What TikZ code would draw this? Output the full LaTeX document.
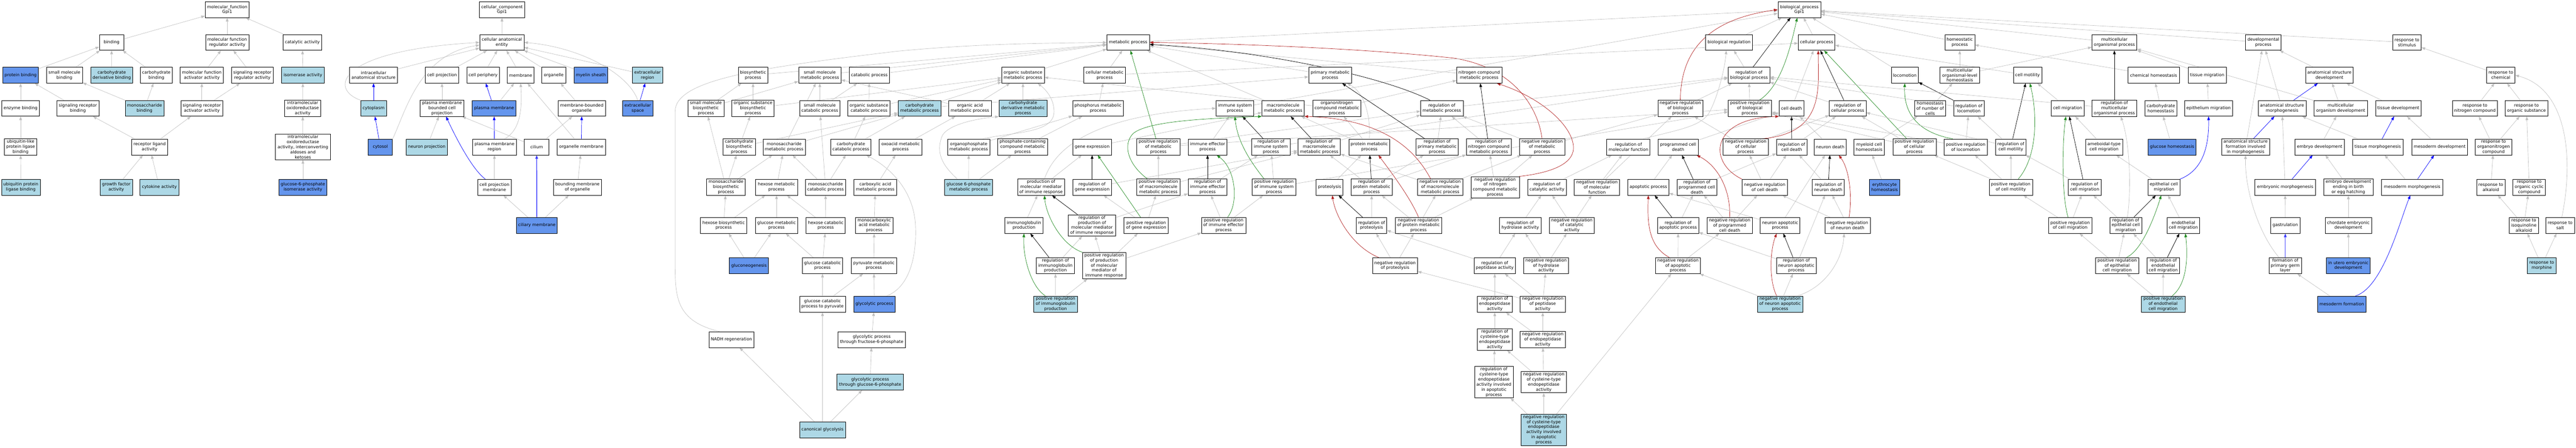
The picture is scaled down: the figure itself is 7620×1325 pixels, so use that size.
\documentclass[tikz,border=0pt]{standalone}
\usepackage{fontspec}
\newfontfamily\gofam{DejaVu Sans}
\usetikzlibrary{arrows.meta}
\pgfdeclarelayer{bg}
\pgfsetlayers{bg,main}
\definecolor{lbc}{HTML}{ADD8E6}
\definecolor{dbc}{HTML}{6495ED}
\definecolor{gc}{HTML}{C0C0C0}
\definecolor{gre}{HTML}{228B22}
\definecolor{redc}{HTML}{B22222}
\newcommand\gofont{\gofam\fontsize{12.5}{15}\selectfont}
\newcommand\GoNode[6]{\node[#1, minimum width={(#4-#3)*1pt}] (#2) at ({(#3+#4)/2},#5) {#6};}
\newcommand\EdG[2]{\draw[egray] (#1) -- (#2);}
\newcommand\EdU[2]{\draw[eblue] (#1) -- (#2);}
\newcommand\EdK[2]{\draw[eblack] (#1) -- (#2);}
\newcommand\EdP[2]{\draw[egreen] (#1) -- (#2);}
\newcommand\EdN[2]{\draw[ered] (#1) -- (#2);}
\tikzset{
 gobox/.style={draw=black, line width=1pt, fill=white, font=\gofont, align=center, inner xsep=5.5pt, inner ysep=2.9pt, minimum height=47pt},
 wbox/.style={gobox},
 lbbox/.style={gobox, fill=lbc},
 dbbox/.style={gobox, fill=dbc},
 tip/.style={-{Triangle[length=11pt,width=8pt]}},
 egray/.style={draw=gc, line width=1pt, tip},
 eblue/.style={draw=blue, line width=1.1pt, tip},
 eblack/.style={draw=black, line width=1.1pt, tip},
 egreen/.style={draw=gre, line width=1.1pt, tip},
 ered/.style={draw=redc, line width=1.1pt, tip}
}
\begin{document}
\begin{tikzpicture}[x=1pt,y=-1pt]
\useasboundingbox (0,0) rectangle (7620,1325);
% ---------------- molecular function
\GoNode{wbox}{mf}{607}{737}{28.5}{molecular\_function\\Gpi1}
\GoNode{wbox}{binding}{294}{366}{125.5}{binding}
\GoNode{wbox}{mfreg}{608}{736}{125.5}{molecular function\\regulator activity}
\GoNode{wbox}{catal}{837}{952}{125.5}{catalytic activity}
\GoNode{dbbox}{protbind}{9}{113}{222.5}{protein binding}
\GoNode{wbox}{smbind}{137}{244}{222.5}{small molecule\\binding}
\GoNode{lbbox}{cdbind}{269}{392}{222.5}{carbohydrate\\derivative binding}
\GoNode{wbox}{cbind}{417}{508}{222.5}{carbohydrate\\binding}
\GoNode{wbox}{mfact}{533}{661}{222.5}{molecular function\\activator activity}
\GoNode{wbox}{srreg}{685}{808}{222.5}{signaling receptor\\regulator activity}
\GoNode{lbbox}{isom}{833}{959}{222.5}{isomerase activity}
\GoNode{wbox}{enzbind}{6}{116}{320.5}{enzyme binding}
\GoNode{wbox}{srbind}{169}{292}{320.5}{signaling receptor\\binding}
\GoNode{lbbox}{monobind}{371}{484}{320.5}{monosaccharide\\binding}
\GoNode{wbox}{sract}{536}{658}{320.5}{signaling receptor\\activator activity}
\GoNode{wbox}{intraox}{842}{949}{320.5}{intramolecular\\oxidoreductase\\activity}
\GoNode{wbox}{ubl}{14}{108}{435}{ubiquitin-like\\protein ligase\\binding}
\GoNode{wbox}{rla}{390}{495}{435}{receptor ligand\\activity}
\GoNode{wbox}{intraoxb}{815}{977}{435}{intramolecular\\oxidoreductase\\activity, interconverting\\aldoses and\\ketoses}
\GoNode{lbbox}{ubpl}{5}{118}{554}{ubiquitin protein\\ligase binding}
\GoNode{lbbox}{gfa}{297}{391}{554}{growth factor\\activity}
\GoNode{lbbox}{cytok}{414}{529}{554}{cytokine activity}
\GoNode{dbbox}{gpi}{825}{967}{554}{glucose-6-phosphate\\isomerase activity}
% ---------------- cellular component
\GoNode{wbox}{cc}{1418}{1552}{28.5}{cellular\_component\\Gpi1}
\GoNode{wbox}{cae}{1419}{1550}{125.5}{cellular anatomical\\entity}
\GoNode{wbox}{ias}{1034}{1176}{222.5}{intracellular\\anatomical structure}
\GoNode{wbox}{cellproj}{1258}{1357}{222.5}{cell projection}
\GoNode{wbox}{cellper}{1382}{1476}{222.5}{cell periphery}
\GoNode{wbox}{memb}{1501}{1579}{222.5}{membrane}
\GoNode{wbox}{organelle}{1602}{1674}{222.5}{organelle}
\GoNode{dbbox}{myelin}{1699}{1797}{222.5}{myelin sheath}
\GoNode{lbbox}{extreg}{1871}{1960}{222.5}{extracellular\\region}
\GoNode{lbbox}{cytoplasm}{1067}{1143}{320.5}{cytoplasm}
\GoNode{wbox}{pmbcp}{1243}{1372}{320.5}{plasma membrane\\bounded cell\\projection}
\GoNode{dbbox}{pm}{1397}{1526}{320.5}{plasma membrane}
\GoNode{wbox}{mbo}{1652}{1790}{320.5}{membrane-bounded\\organelle}
\GoNode{dbbox}{extsp}{1842}{1931}{320.5}{extracellular\\space}
\GoNode{dbbox}{cytosol}{1089}{1161}{435}{cytosol}
\GoNode{lbbox}{neuproj}{1202}{1323}{435}{neuron projection}
\GoNode{wbox}{pmr}{1398}{1527}{435}{plasma membrane\\region}
\GoNode{wbox}{cilium}{1551}{1624}{435}{cilium}
\GoNode{wbox}{orgmem}{1648}{1791}{435}{organelle membrane}
\GoNode{wbox}{cpm}{1413}{1512}{554}{cell projection\\membrane}
\GoNode{wbox}{bmo}{1637}{1779}{554}{bounding membrane\\of organelle}
\GoNode{dbbox}{cilmem}{1528}{1648}{667}{ciliary membrane}
% ---------------- metabolism (left)
\GoNode{wbox}{smbp}{2035}{2141}{320.5}{small molecule\\biosynthetic\\process}
\GoNode{wbox}{monobp}{2091}{2204}{554}{monosaccharide\\biosynthetic\\process}
\GoNode{wbox}{hexbp}{2072}{2209}{667}{hexose biosynthetic\\process}
\GoNode{wbox}{nadh}{2098}{2229}{1005}{NADH regeneration}
\GoNode{wbox}{biosyn}{2184}{2271}{222.5}{biosynthetic\\process}
\GoNode{wbox}{smmp}{2362}{2488}{222.5}{small molecule\\metabolic process}
\GoNode{wbox}{catab}{2512}{2631}{222.5}{catabolic process}
\GoNode{wbox}{osbp}{2166}{2289}{320.5}{organic substance\\biosynthetic\\process}
\GoNode{wbox}{smcp}{2366}{2484}{320.5}{small molecule\\catabolic process}
\GoNode{wbox}{oscp}{2509}{2632}{320.5}{organic substance\\catabolic process}
\GoNode{lbbox}{carbmp}{2657}{2783}{320.5}{carbohydrate\\metabolic process}
\GoNode{wbox}{cbp}{2141}{2232}{435}{carbohydrate\\biosynthetic\\process}
\GoNode{wbox}{monomp}{2257}{2382}{435}{monosaccharide\\metabolic process}
\GoNode{wbox}{carbcp}{2458}{2576}{435}{carbohydrate\\catabolic process}
\GoNode{wbox}{oxoacid}{2601}{2727}{435}{oxoacid metabolic\\process}
\GoNode{wbox}{hexmp}{2235}{2359}{554}{hexose metabolic\\process}
\GoNode{wbox}{monocp}{2383}{2501}{554}{monosaccharide\\catabolic process}
\GoNode{wbox}{carbox}{2526}{2652}{554}{carboxylic acid\\metabolic process}
\GoNode{wbox}{glcmp}{2234}{2360}{667}{glucose metabolic\\process}
\GoNode{wbox}{hexcp}{2385}{2500}{667}{hexose catabolic\\process}
\GoNode{wbox}{monocarb}{2531}{2641}{667}{monocarboxylic\\acid metabolic\\process}
\GoNode{dbbox}{gluconeo}{2158}{2273}{786}{gluconeogenesis}
\GoNode{wbox}{glccp}{2374}{2492}{786}{glucose catabolic\\process}
\GoNode{wbox}{pyr}{2518}{2652}{786}{pyruvate metabolic\\process}
\GoNode{wbox}{glccppyr}{2366}{2500}{900}{glucose catabolic\\process to pyruvate}
\GoNode{dbbox}{glyco}{2525}{2648}{900}{glycolytic process}
\GoNode{wbox}{gpfsp}{2479}{2678}{1005}{glycolytic process\\through fructose-6-phosphate}
\GoNode{lbbox}{gpgsp}{2476}{2672}{1131}{glycolytic process\\through glucose-6-phosphate}
\GoNode{lbbox}{canon}{2365}{2501}{1272}{canonical glycolysis}
% ---------------- metabolism (middle)
\GoNode{wbox}{metab}{3274}{3400}{125.5}{metabolic process}
\GoNode{wbox}{osmp}{2963}{3089}{222.5}{organic substance\\metabolic process}
\GoNode{wbox}{cellmp}{3206}{3329}{222.5}{cellular metabolic\\process}
\GoNode{wbox}{oamp}{2806}{2932}{320.5}{organic acid\\metabolic process}
\GoNode{lbbox}{cdmp}{2955}{3097}{320.5}{carbohydrate\\derivative metabolic\\process}
\GoNode{wbox}{phosmp}{3173}{3323}{320.5}{phosphorus metabolic\\process}
\GoNode{wbox}{orgphos}{2803}{2928}{435}{organophosphate\\metabolic process}
\GoNode{wbox}{pccmp}{2952}{3098}{435}{phosphate-containing\\compound metabolic\\process}
\GoNode{wbox}{geneexp}{3174}{3287}{435}{gene expression}
\GoNode{lbbox}{gsixmp}{2794}{2936}{554}{glucose 6-phosphate\\metabolic process}
\GoNode{wbox}{prodmm}{3010}{3149}{554}{production of\\molecular mediator\\of immune response}
\GoNode{wbox}{reggene}{3174}{3287}{554}{regulation of\\gene expression}
\GoNode{wbox}{igprod}{2973}{3085}{667}{immunoglobulin\\production}
\GoNode{wbox}{regprodmm}{3160}{3300}{667}{regulation of\\production of\\molecular mediator\\of immune response}
\GoNode{wbox}{posgene}{3325}{3456}{667}{positive regulation\\of gene expression}
\GoNode{wbox}{regig}{3066}{3178}{786}{regulation of\\immunoglobulin\\production}
\GoNode{wbox}{posprodmm}{3202}{3330}{786}{positive regulation\\of production\\of molecular\\mediator of\\immune response}
\GoNode{lbbox}{posig}{3058}{3187}{900}{positive regulation\\of immunoglobulin\\production}
\GoNode{wbox}{primmp}{3871}{3998}{222.5}{primary metabolic\\process}
\GoNode{wbox}{isp}{3597}{3709}{320.5}{immune system\\process}
\GoNode{wbox}{macromp}{3733}{3858}{320.5}{macromolecule\\metabolic process}
\GoNode{wbox}{orgnit}{3884}{4025}{320.5}{organonitrogen\\compound metabolic\\process}
\GoNode{wbox}{posmp}{3362}{3491}{435}{positive regulation\\of metabolic\\process}
\GoNode{wbox}{iep}{3515}{3629}{435}{immune effector\\process}
\GoNode{wbox}{regisp}{3703}{3816}{435}{regulation of\\immune system\\process}
\GoNode{wbox}{regmacro}{3839}{3965}{435}{regulation of\\macromolecule\\metabolic process}
\GoNode{wbox}{protmp}{3990}{4111}{435}{protein metabolic\\process}
\GoNode{wbox}{posmacro}{3362}{3491}{554}{positive regulation\\of macromolecule\\metabolic process}
\GoNode{wbox}{regiep}{3515}{3629}{554}{regulation of\\immune effector\\process}
\GoNode{wbox}{posisp}{3704}{3833}{554}{positive regulation\\of immune system\\process}
\GoNode{wbox}{proteol}{3894}{3972}{554}{proteolysis}
\GoNode{wbox}{regprotmp}{3997}{4118}{554}{regulation of\\protein metabolic\\process}
\GoNode{wbox}{posiep}{3554}{3685}{667}{positive regulation\\of immune effector\\process}
\GoNode{wbox}{regproteol}{4013}{4101}{667}{regulation of\\proteolysis}
\GoNode{wbox}{ncmp}{4310}{4441}{222.5}{nitrogen compound\\metabolic process}
\GoNode{wbox}{regmp}{4202}{4328}{320.5}{regulation of\\metabolic process}
\GoNode{wbox}{regprimp}{4188}{4314}{435}{regulation of\\primary metabolic\\process}
\GoNode{wbox}{regncmp}{4338}{4470}{435}{regulation of\\nitrogen compound\\metabolic process}
\GoNode{wbox}{negmp}{4495}{4628}{435}{negative regulation\\of metabolic\\process}
\GoNode{wbox}{regmf}{4753}{4881}{435}{regulation of\\molecular function}
\GoNode{wbox}{negmacro}{4194}{4326}{554}{negative regulation\\of macromolecule\\metabolic process}
\GoNode{wbox}{negncmp}{4351}{4494}{554}{negative regulation\\of nitrogen\\compound metabolic\\process}
\GoNode{wbox}{regcat}{4519}{4633}{554}{regulation of\\catalytic activity}
\GoNode{wbox}{negmf}{4657}{4791}{554}{negative regulation\\of molecular\\function}
\GoNode{wbox}{negprotmp}{4127}{4265}{667}{negative regulation\\of protein metabolic\\process}
\GoNode{wbox}{reghyd}{4436}{4558}{667}{regulation of\\hydrolase activity}
\GoNode{wbox}{negcat}{4583}{4716}{667}{negative regulation\\of catalytic\\activity}
\GoNode{wbox}{negproteol}{4060}{4193}{786}{negative regulation\\of proteolysis}
\GoNode{wbox}{regpep}{4360}{4483}{786}{regulation of\\peptidase activity}
\GoNode{wbox}{neghyd}{4507}{4640}{786}{negative regulation\\of hydrolase\\activity}
\GoNode{wbox}{regendo}{4371}{4472}{900}{regulation of\\endopeptidase\\activity}
\GoNode{wbox}{negpep}{4497}{4630}{900}{negative regulation\\of peptidase\\activity}
\GoNode{wbox}{regcys}{4371}{4472}{1005}{regulation of\\cysteine-type\\endopeptidase\\activity}
\GoNode{wbox}{negendo}{4497}{4630}{1005}{negative regulation\\of endopeptidase\\activity}
\GoNode{wbox}{regcysapo}{4362}{4476}{1131}{regulation of\\cysteine-type\\endopeptidase\\activity involved\\in apoptotic\\process}
\GoNode{wbox}{negcys}{4500}{4633}{1131}{negative regulation\\of cysteine-type\\endopeptidase\\activity}
\GoNode{lbbox}{negcysapo}{4500}{4633}{1272}{negative regulation\\of cysteine-type\\endopeptidase\\activity involved\\in apoptotic\\process}
% ---------------- biological process / cell death
\GoNode{wbox}{bp}{5259}{5386}{28.5}{biological\_process\\Gpi1}
\GoNode{wbox}{bioreg}{5045}{5184}{125.5}{biological regulation}
\GoNode{wbox}{cellproc}{5320}{5427}{125.5}{cellular process}
\GoNode{wbox}{regbp}{5112}{5235}{222.5}{regulation of\\biological process}
\GoNode{wbox}{negbp}{4904}{5037}{320.5}{negative regulation\\of biological\\process}
\GoNode{wbox}{posbp}{5112}{5240}{320.5}{positive regulation\\of biological\\process}
\GoNode{wbox}{celldeath}{5263}{5336}{320.5}{cell death}
\GoNode{wbox}{regcp}{5412}{5519}{320.5}{regulation of\\cellular process}
\GoNode{wbox}{pcd}{4905}{5023}{435}{programmed cell\\death}
\GoNode{wbox}{negcp}{5097}{5231}{435}{negative regulation\\of cellular\\process}
\GoNode{wbox}{regcd}{5256}{5344}{435}{regulation of\\cell death}
\GoNode{wbox}{neurdeath}{5368}{5460}{435}{neuron death}
\GoNode{wbox}{apop}{4816}{4936}{554}{apoptotic process}
\GoNode{wbox}{regpcd}{4961}{5078}{554}{regulation of\\programmed cell\\death}
\GoNode{wbox}{negcd}{5153}{5287}{554}{negative regulation\\of cell death}
\GoNode{wbox}{regnd}{5362}{5454}{554}{regulation of\\neuron death}
\GoNode{wbox}{regapop}{4904}{5024}{667}{regulation of\\apoptotic process}
\GoNode{wbox}{negpcd}{5050}{5183}{667}{negative regulation\\of programmed\\cell death}
\GoNode{wbox}{neurapop}{5208}{5323}{667}{neuron apoptotic\\process}
\GoNode{wbox}{negnd}{5398}{5532}{667}{negative regulation\\of neuron death}
\GoNode{wbox}{negapop}{4897}{5030}{786}{negative regulation\\of apoptotic\\process}
\GoNode{wbox}{regneurapop}{5256}{5371}{786}{regulation of\\neuron apoptotic\\process}
\GoNode{lbbox}{negneurapop}{5199}{5332}{900}{negative regulation\\of neuron apoptotic\\process}
% ---------------- locomotion / homeostasis
\GoNode{wbox}{homeo}{5754}{5840}{125.5}{homeostatic\\process}
\GoNode{wbox}{locom}{5595}{5674}{222.5}{locomotion}
\GoNode{wbox}{multihomeo}{5739}{5855}{222.5}{multicellular\\organismal-level\\homeostasis}
\GoNode{wbox}{cellmot}{5956}{6039}{222.5}{cell motility}
\GoNode{wbox}{homnum}{5664}{5755}{320.5}{homeostasis\\of number of\\cells}
\GoNode{wbox}{regloc}{5780}{5868}{320.5}{regulation of\\locomotion}
\GoNode{wbox}{cellmig}{6068}{6164}{320.5}{cell migration}
\GoNode{wbox}{myeloid}{5485}{5573}{435}{myeloid cell\\homeostasis}
\GoNode{wbox}{poscp}{5599}{5727}{435}{positive regulation\\of cellular\\process}
\GoNode{wbox}{posloc}{5750}{5879}{435}{positive regulation\\of locomotion}
\GoNode{wbox}{regcm}{5904}{5992}{435}{regulation of\\cell motility}
\GoNode{dbbox}{erythro}{5530}{5619}{554}{erythrocyte\\homeostasis}
\GoNode{wbox}{poscm}{5884}{6012}{554}{positive regulation\\of cell motility}
\GoNode{wbox}{regcmig}{6118}{6215}{554}{regulation of\\cell migration}
\GoNode{wbox}{poscmig}{6060}{6187}{667}{positive regulation\\of cell migration}
\GoNode{wbox}{multiorg}{6188}{6321}{125.5}{multicellular\\organismal process}
\GoNode{wbox}{devproc}{6643}{6747}{125.5}{developmental\\process}
\GoNode{wbox}{chemhom}{6294}{6447}{222.5}{chemical homeostasis}
\GoNode{wbox}{tissmig}{6473}{6585}{222.5}{tissue migration}
\GoNode{wbox}{regmulti}{6188}{6321}{320.5}{regulation of\\multicellular\\organismal process}
\GoNode{wbox}{carbhom}{6346}{6438}{320.5}{carbohydrate\\homeostasis}
\GoNode{wbox}{epimig}{6462}{6604}{320.5}{epithelium migration}
\GoNode{wbox}{ameboid}{6169}{6279}{435}{ameboidal-type\\cell migration}
\GoNode{dbbox}{glchom}{6354}{6496}{435}{glucose homeostasis}
\GoNode{wbox}{asfim}{6572}{6713}{435}{anatomical structure\\formation involved\\in morphogenesis}
\GoNode{wbox}{epicm}{6354}{6448}{554}{epithelial cell\\migration}
\GoNode{wbox}{regepi}{6241}{6335}{667}{regulation of\\epithelial cell\\migration}
\GoNode{wbox}{endocm}{6410}{6507}{667}{endothelial\\cell migration}
\GoNode{wbox}{posepi}{6198}{6327}{786}{positive regulation\\of epithelial\\cell migration}
\GoNode{wbox}{regendocm}{6351}{6447}{786}{regulation of\\endothelial\\cell migration}
\GoNode{lbbox}{posendo}{6334}{6463}{900}{positive regulation\\of endothelial\\cell migration}
% ---------------- development / response
\GoNode{wbox}{respstim}{7078}{7162}{125.5}{response to\\stimulus}
\GoNode{wbox}{asd}{6820}{6961}{222.5}{anatomical structure\\development}
\GoNode{wbox}{asm}{6680}{6821}{320.5}{anatomical structure\\morphogenesis}
\GoNode{wbox}{mod}{6845}{7003}{320.5}{multicellular\\organism development}
\GoNode{wbox}{tissdev}{7027}{7162}{320.5}{tissue development}
\GoNode{wbox}{embdev}{6788}{6935}{435}{embryo development}
\GoNode{wbox}{tissmorph}{6959}{7108}{435}{tissue morphogenesis}
\GoNode{wbox}{mesdev}{7134}{7299}{435}{mesoderm development}
\GoNode{wbox}{embmorph}{6670}{6849}{554}{embryonic morphogenesis}
\GoNode{wbox}{edeb}{6873}{7020}{554}{embryo development\\ending in birth\\or egg hatching}
\GoNode{wbox}{mesmorph}{7045}{7225}{554}{mesoderm morphogenesis}
\GoNode{wbox}{gastr}{6718}{6802}{667}{gastrulation}
\GoNode{wbox}{chordate}{6878}{7015}{667}{chordate embryonic\\development}
\GoNode{wbox}{fpgl}{6713}{6807}{786}{formation of\\primary germ\\layer}
\GoNode{dbbox}{inutero}{6882}{7011}{786}{in utero embryonic\\development}
\GoNode{dbbox}{mesform}{6855}{6999}{900}{mesoderm formation}
\GoNode{wbox}{respchem}{7356}{7439}{222.5}{response to\\chemical}
\GoNode{wbox}{respnit}{7255}{7387}{320.5}{response to\\nitrogen compound}
\GoNode{wbox}{respos}{7412}{7535}{320.5}{response to\\organic substance}
\GoNode{wbox}{resporgn}{7324}{7428}{435}{response to\\organonitrogen\\compound}
\GoNode{wbox}{respalk}{7327}{7409}{554}{response to\\alkaloid}
\GoNode{wbox}{resporgcyc}{7434}{7529}{554}{response to\\organic cyclic\\compound}
\GoNode{wbox}{respiso}{7423}{7508}{667}{response to\\isoquinoline\\alkaloid}
\GoNode{wbox}{respsalt}{7531}{7615}{667}{response to\\salt}
\GoNode{lbbox}{respmorph}{7477}{7560}{786}{response to\\morphine}
\begin{pgfonlayer}{bg}
\fill[white] (0,0) rectangle (7620,1325);
% MF edges
\EdG{binding}{mf}\EdG{mfreg}{mf}\EdG{catal}{mf}
\EdG{protbind}{binding}\EdG{smbind}{binding}\EdG{cdbind}{binding}\EdG{cbind}{binding}
\EdG{mfact}{mfreg}\EdG{srreg}{mfreg}\EdG{isom}{catal}
\EdG{enzbind}{protbind}\EdG{srbind}{protbind}
\EdG{monobind}{smbind}\EdG{monobind}{cbind}
\EdG{sract}{mfact}\EdG{sract}{srreg}
\EdG{intraox}{isom}\EdG{ubl}{enzbind}
\EdG{rla}{srbind}\EdG{rla}{sract}
\EdG{intraoxb}{intraox}\EdG{ubpl}{ubl}\EdG{gfa}{rla}\EdG{cytok}{rla}\EdG{gpi}{intraoxb}
% CC edges
\EdG{cae}{cc}\EdG{ias}{cae}\EdG{cellproj}{cae}\EdG{cellper}{cae}\EdG{memb}{cae}
\EdG{organelle}{cae}\EdG{myelin}{cae}\EdG{extreg}{cae}
\draw[egray] (cytoplasm.north west) .. controls (975,265) and (990,150) .. (cae.west);
\draw[egray] (cytosol.north east) .. controls (1200,330) and (1240,160) .. ([yshift=-8pt]cae.west);
\draw[egray] (extsp.north) .. controls (1860,220) and (1720,140) .. (cae.east);
\EdU{cytoplasm}{ias}\EdU{cytosol}{cytoplasm}\EdU{extsp}{extreg}
\EdG{pmbcp}{cellproj}\EdU{pm}{cellper}\EdG{pm}{memb}\EdG{neuproj}{pmbcp}
\draw[eblue] ([xshift=23pt]cpm.north west) .. controls (1395,500) and (1345,400) .. ([xshift=12pt]pmbcp.south);
\EdG{cpm}{pmr}\EdU{pmr}{pm}
\draw[egray] ([xshift=-35pt]pmr.north east) .. controls (1540,385) and (1545,320) .. (memb.south);
\EdG{cilium}{pmbcp}\EdG{cilium}{mbo}\EdU{orgmem}{mbo}\EdG{orgmem}{memb}\EdG{mbo}{organelle}\EdG{bmo}{orgmem}
\draw[eblue, line width=2.2pt, draw={rgb,255:red,60;green,60;blue,255}] (cilmem) -- (cilium);
\EdG{cilmem}{bmo}\EdG{cilmem}{cpm}
% metabolism left
\EdG{biosyn}{metab}\EdG{smmp}{metab}\EdG{catab}{metab}
\EdG{osbp}{biosyn}\EdG{osbp}{osmp}\EdG{smbp}{biosyn}\EdG{smbp}{smmp}
\EdG{smcp}{smmp}\EdG{smcp}{catab}\EdG{oscp}{catab}\EdG{oscp}{osmp}
\EdG{carbmp}{osmp}\EdG{carbmp}{primmp}
\EdG{cbp}{osbp}\EdG{cbp}{carbmp}\EdG{monomp}{smmp}\EdG{monomp}{carbmp}
\EdG{carbcp}{oscp}\EdG{carbcp}{carbmp}\EdG{oxoacid}{oamp}
\EdG{monobp}{smbp}\EdG{monobp}{cbp}\EdG{monobp}{monomp}
\EdG{hexmp}{monomp}\EdG{monocp}{monomp}\EdG{monocp}{smcp}\EdG{monocp}{carbcp}
\EdG{carbox}{oxoacid}\EdG{hexbp}{monobp}\EdG{hexbp}{hexmp}\EdG{glcmp}{hexmp}
\EdG{hexcp}{hexmp}\EdG{hexcp}{monocp}\EdG{monocarb}{carbox}
\EdG{gluconeo}{hexbp}\EdG{gluconeo}{glcmp}\EdG{glccp}{glcmp}\EdG{glccp}{hexcp}
\EdG{pyr}{monocarb}\EdG{glccppyr}{glccp}\EdG{glccppyr}{pyr}\EdG{glyco}{pyr}
\draw[egray] ([xshift=-26pt]glyco.north east) .. controls (2690,850) and (2712,760) .. (2708,668) .. controls (2704,570) and (2640,500) .. ([xshift=-15pt]carbcp.south east);
\EdG{gpfsp}{glyco}\EdG{gpgsp}{gpfsp}\EdG{canon}{glccppyr}\EdG{canon}{gpgsp}\EdG{canon}{nadh}
\draw[egray] ([xshift=31pt]nadh.north west) .. controls (2000,950) and (1997,880) .. (1997,780) -- (1997,330) .. controls (1997,235) and (2250,200) .. (2650,152) .. controls (2900,128) and (3100,128) .. (metab.west);
% metabolism middle
\EdG{osmp}{metab}\EdG{cellmp}{metab}\EdG{oamp}{smmp}\EdG{oamp}{osmp}\EdG{cdmp}{osmp}\EdG{phosmp}{cellmp}
\EdG{orgphos}{phosmp}\EdG{pccmp}{phosmp}
\draw[egray] ([xshift=-22pt]orgphos.north east) .. controls (3000,390) and (3118,395) .. (3118,330) .. controls (3118,290) and (3090,262) .. ([xshift=-20pt]osmp.south east);
\EdG{gsixmp}{orgphos}\EdG{gsixmp}{pccmp}
\draw[egray] ([xshift=-33pt]gsixmp.north) .. controls (2800,500) and (2762,460) .. (2788,400) .. controls (2810,365) and (2900,350) .. (cdmp.south west);
\EdG{geneexp}{macromp}\EdG{prodmm}{geneexp}
\draw[egray] ([xshift=10pt]prodmm.north) .. controls (3120,440) and (3230,340) .. (isp.west);
\EdK{reggene}{geneexp}\EdG{reggene}{regmacro}
\EdG{igprod}{prodmm}\EdK{regprodmm}{prodmm}\EdG{regprodmm}{regiep}
\EdG{posgene}{reggene}\EdG{posgene}{posmacro}\EdP{posgene}{geneexp}
\EdK{regig}{igprod}\EdG{regig}{regprodmm}
\draw[egreen] (posprodmm.north west) .. controls (3140,725) and (3095,640) .. ([xshift=10pt]prodmm.south);
\EdG{posprodmm}{regprodmm}\EdG{posprodmm}{posiep}\EdG{posprodmm}{posgene}
\draw[egreen] ([xshift=35pt]posig.north west) .. controls (3050,850) and (3025,760) .. (igprod.south);
\EdG{posig}{regig}\EdG{posig}{posprodmm}
% metabolism right
\EdG{primmp}{metab}\EdG{isp}{bp}\EdG{macromp}{metab}\EdG{orgnit}{ncmp}\EdG{orgnit}{osmp}
\EdP{posmp}{metab}\EdG{posmp}{regmp}\EdG{posmp}{posbp}
\EdG{iep}{isp}\EdK{regisp}{isp}\EdG{regisp}{regbp}
\EdK{regmacro}{macromp}\EdG{regmacro}{regmp}
\EdG{protmp}{macromp}\EdG{protmp}{orgnit}
\draw[egray] (protmp.north) .. controls (4055,330) and (4030,270) .. ([xshift=50pt]primmp.south);
\EdG{posmacro}{posmp}\EdG{posmacro}{regmacro}
\draw[egreen] ([xshift=-32pt]posmacro.north) .. controls (3340,490) and (3318,430) .. (3352,395) .. controls (3400,355) and (3600,350) .. (macromp.south west);
\EdK{regiep}{iep}\EdG{regiep}{regisp}
\draw[egreen] ([xshift=36pt]posisp.north west) .. controls (3700,480) and (3660,420) .. (isp.south);
\EdG{posisp}{regisp}\EdG{posisp}{posbp}
\EdG{proteol}{protmp}
\EdG{regprotmp}{regprimp}\EdG{regprotmp}{regncmp}\EdG{regprotmp}{regmacro}\EdK{regprotmp}{protmp}
\draw[egreen] ([xshift=12pt]posiep.north) .. controls (3665,600) and (3655,500) .. ([xshift=27pt]iep.south);
\EdG{posiep}{regiep}\EdG{posiep}{posisp}
\EdG{regproteol}{regprotmp}\EdK{regproteol}{proteol}
\EdG{ncmp}{metab}
\EdG{regmp}{regbp}
\draw[eblack] ([xshift=-35pt]regmp.north) .. controls (4100,230) and (3750,150) .. ([yshift=-6pt]metab.east);
\EdG{regprimp}{regmp}\EdK{regprimp}{primmp}
\EdG{regncmp}{regmp}\EdK{regncmp}{ncmp}
\EdG{negmp}{regmp}\EdG{negmp}{negbp}
\draw[ered] (negmp.north) .. controls (4550,320) and (4480,200) .. (4300,172) .. controls (4000,140) and (3600,128) .. (metab.east);
\draw[egray] ([xshift=-21pt]regmf.north east) .. controls (4960,385) and (5030,375) .. (5055,335) .. controls (5075,300) and (5100,220) .. ([xshift=-8pt]bioreg.south);
\EdG{negmacro}{regmacro}\EdG{negmacro}{negmp}
\draw[ered] ([xshift=-28pt]negmacro.north) .. controls (4190,450) and (4100,352) .. (macromp.south east);
\EdG{negncmp}{regncmp}\EdG{negncmp}{negmp}
\draw[ered] (negncmp.north east) .. controls (4600,510) and (4660,480) .. (4654,431) .. controls (4648,370) and (4560,290) .. ([xshift=-15pt]ncmp.south east);
\EdG{regcat}{regmf}\EdG{negmf}{regmf}\EdG{negmf}{negbp}
\EdG{negprotmp}{regprotmp}\EdG{negprotmp}{negmacro}\EdG{negprotmp}{negncmp}
\draw[ered] (negprotmp.north) .. controls (4170,580) and (4100,490) .. ([xshift=27pt]protmp.south);
\EdG{reghyd}{regcat}\EdG{negcat}{regcat}\EdG{negcat}{negmf}
\EdG{negproteol}{regproteol}\EdG{negproteol}{negprotmp}
\draw[ered] ([xshift=19pt]negproteol.north west) .. controls (4000,730) and (3950,640) .. ([xshift=8pt]proteol.south);
\EdG{regpep}{reghyd}\EdG{regpep}{regproteol}
\EdG{neghyd}{reghyd}\EdG{neghyd}{negcat}
\EdG{regendo}{regpep}\EdG{negpep}{regpep}\EdG{negpep}{neghyd}\EdG{negpep}{negproteol}
\EdG{regcys}{regendo}\EdG{negendo}{regendo}\EdG{negendo}{negpep}
\EdG{regcysapo}{regcys}\EdG{negcys}{regcys}\EdG{negcys}{negendo}
\EdG{negcysapo}{regcysapo}\EdG{negcysapo}{negcys}\EdG{negcysapo}{negapop}
% biological process
\EdG{metab}{bp}\EdG{bioreg}{bp}\EdG{cellproc}{bp}
\draw[eblack] ([xshift=12pt]regbp.north) .. controls (5230,140) and (5270,85) .. ([xshift=-26pt]bp.south);
\draw[egreen] ([xshift=29pt]posbp.north) .. controls (5275,250) and (5300,120) .. ([xshift=-6pt]bp.south);
\draw[ered] (negbp.north) .. controls (4972,170) and (5030,60) .. (bp.west);
\EdG{regbp}{bioreg}\EdG{negbp}{regbp}\EdG{posbp}{regbp}
\EdG{cellmp}{cellproc}
\EdG{celldeath}{cellproc}\EdK{regcp}{cellproc}\EdG{regcp}{regbp}
\EdG{pcd}{celldeath}\EdG{negcp}{negbp}\EdG{negcp}{regcp}
\draw[ered] ([xshift=-20pt]negcp.north east) .. controls (5400,395) and (5378,260) .. ([xshift=5pt]cellproc.south);
\EdK{regcd}{celldeath}\EdG{regcd}{regcp}\EdG{neurdeath}{celldeath}
\EdG{apop}{pcd}\EdK{regpcd}{pcd}\EdG{regpcd}{regcd}
\EdG{negcd}{regcd}\EdG{negcd}{negcp}
\draw[ered] (negcd.north west) .. controls (5050,480) and (5060,350) .. (celldeath.south west);
\EdK{regnd}{neurdeath}\EdG{regnd}{regcd}
\EdK{regapop}{apop}\EdG{regapop}{regpcd}
\EdG{negpcd}{regpcd}\EdG{negpcd}{negcd}
\draw[ered] (negpcd.north) .. controls (5120,560) and (5080,490) .. ([xshift=-5pt]pcd.south east);
\EdG{neurapop}{apop}\EdG{neurapop}{neurdeath}
\EdG{negnd}{regnd}\EdG{negnd}{negcd}
\draw[ered] ([xshift=-63pt]negnd.north east) .. controls (5480,580) and (5470,500) .. ([xshift=-23pt]neurdeath.south east);
\EdG{negapop}{regapop}\EdG{negapop}{negpcd}
\draw[ered] ([xshift=41pt]negapop.north west) .. controls (4880,730) and (4872,670) .. (apop.south);
\EdK{regneurapop}{neurapop}\EdG{regneurapop}{regapop}\EdG{regneurapop}{regnd}
\draw[ered] ([xshift=-10pt]negneurapop.north) .. controls (5232,830) and (5236,740) .. ([xshift=-10pt]neurapop.south);
\EdG{negneurapop}{regneurapop}\EdG{negneurapop}{negapop}
\draw[egray] ([xshift=-16pt]negneurapop.north east) .. controls (5400,850) and (5450,770) .. ([xshift=-10pt]negnd.south);
% locomotion / homeostasis
\EdG{homeo}{bp}\EdG{locom}{bp}\EdG{multihomeo}{homeo}\EdG{multihomeo}{multiorg}
\EdG{cellmot}{cellproc}\EdG{homnum}{multihomeo}\EdK{regloc}{locom}\EdG{regloc}{regbp}
\EdG{cellmig}{cellmot}\EdG{myeloid}{homnum}\EdG{poscp}{regcp}\EdG{poscp}{posbp}\EdP{poscp}{cellproc}
\EdG{posloc}{regloc}\EdG{posloc}{posbp}
\draw[egreen] ([xshift=-38pt]posloc.north) .. controls (5690,395) and (5630,350) .. (locom.south);
\EdK{regcm}{cellmot}\EdG{regcm}{regloc}\EdG{regcm}{regcp}
\EdG{erythro}{myeloid}
\EdG{poscm}{regcm}\EdG{poscm}{posloc}\EdG{poscm}{poscp}
\draw[egreen] ([xshift=22pt]poscm.north) .. controls (6030,460) and (6025,330) .. ([xshift=7pt]cellmot.south);
\EdK{regcmig}{cellmig}\EdG{regcmig}{regcm}
\EdG{poscmig}{regcmig}\EdG{poscmig}{poscm}
\draw[egreen] ([xshift=-6pt]poscmig.north) .. controls (6098,580) and (6100,420) .. ([xshift=-5pt]cellmig.south);
\EdG{multiorg}{bp}\EdG{devproc}{bp}\EdG{respstim}{bp}
\EdG{chemhom}{homeo}\EdG{tissmig}{multiorg}\EdK{regmulti}{multiorg}\EdG{regmulti}{regbp}
\EdG{carbhom}{chemhom}\EdG{epimig}{tissmig}\EdG{ameboid}{cellmig}\EdG{glchom}{carbhom}
\EdG{asfim}{devproc}\EdU{asfim}{asm}
\draw[eblue] (epicm.north east) .. controls (6500,510) and (6535,460) .. (epimig.south);
\EdG{epicm}{ameboid}
\EdK{regepi}{epicm}\EdG{regepi}{regcmig}
\draw[egray] ([xshift=5pt]regepi.north) .. controls (6305,560) and (6300,420) .. ([xshift=19pt]regmulti.south);
\EdG{endocm}{epicm}
\EdG{posepi}{regepi}\EdG{posepi}{poscmig}
\draw[egreen] ([xshift=-37pt]posepi.north east) .. controls (6340,740) and (6380,620) .. ([xshift=-8pt]epicm.south);
\EdK{regendocm}{endocm}\EdG{regendocm}{regepi}
\EdG{posendo}{posepi}\EdG{posendo}{regendocm}
\draw[egreen] ([xshift=-38pt]posendo.north east) .. controls (6470,840) and (6472,760) .. ([xshift=6pt]endocm.south);
% development
\EdG{asd}{devproc}\EdG{asm}{devproc}\EdU{asm}{asd}
\EdG{mod}{asd}\EdG{mod}{multiorg}\EdG{tissdev}{asd}
\EdG{embdev}{mod}\EdG{tissmorph}{asm}\EdU{tissmorph}{tissdev}\EdG{mesdev}{tissdev}
\EdU{embmorph}{embdev}\EdG{embmorph}{asm}\EdG{edeb}{embdev}
\EdG{mesmorph}{tissmorph}\EdU{mesmorph}{mesdev}
\EdG{gastr}{embmorph}\EdG{chordate}{edeb}
\draw[eblue, line width=2.2pt, draw={rgb,255:red,60;green,60;blue,255}] (fpgl) -- (gastr);
\draw[egray] ([xshift=30pt]fpgl.north west) .. controls (6680,690) and (6640,560) .. (asfim.south);
\EdG{inutero}{chordate}
\EdG{mesform}{fpgl}
\draw[eblue] ([xshift=-32pt]mesform.north east) .. controls (7050,850) and (7100,650) .. ([xshift=-5pt]mesmorph.south);
% response
\EdG{respchem}{respstim}\EdG{respnit}{respchem}\EdG{respos}{respchem}
\EdG{resporgn}{respnit}\EdG{resporgn}{respos}\EdG{respalk}{resporgn}\EdG{resporgcyc}{respos}
\EdG{respiso}{respalk}\EdG{respiso}{resporgcyc}
\draw[egray] ([xshift=5pt]respsalt.north) .. controls (7612,480) and (7600,265) .. (respchem.east);
\EdG{respmorph}{respiso}\EdG{respmorph}{respsalt}
\end{pgfonlayer}
\end{tikzpicture}
\end{document}
